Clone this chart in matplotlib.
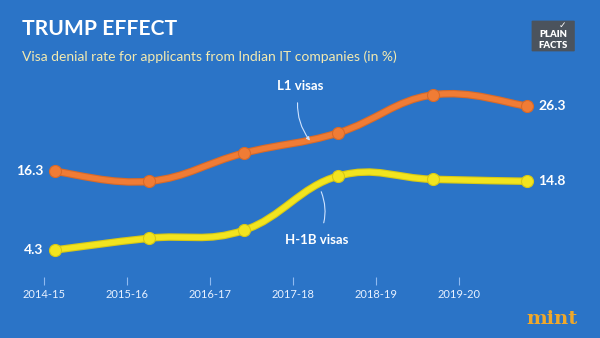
import numpy as np
import matplotlib
matplotlib.use("Agg")
import matplotlib.pyplot as plt
from matplotlib.path import Path
from matplotlib.patches import PathPatch, FancyBboxPatch

years = ["2014-15", "2015-16", "2016-17", "2017-18", "2018-19", "2019-20"]
l1_rate = [16.3, 14.8, 19.1, 22.2, 28.0, 26.3]
h1b_rate = [4.3, 6.1, 7.3, 15.6, 15.1, 14.8]

BG = "#2b74c7"
ORANGE = "#f07c35"
YELLOW = "#f2e41f"
SUB = "#f3eab0"

plt.rcParams["font.family"] = ["Lato", "DejaVu Sans"]


def smooth_path(xs, ys, t=0.2):
    # catmull-rom style bezier through the points
    xs = np.asarray(xs, float)
    ys = np.asarray(ys, float)
    verts = [(xs[0], ys[0])]
    codes = [Path.MOVETO]
    n = len(xs)
    for i in range(n - 1):
        x0, y0 = (xs[i - 1], ys[i - 1]) if i > 0 else (xs[i], ys[i])
        x3, y3 = (xs[i + 2], ys[i + 2]) if i + 2 < n else (xs[i + 1], ys[i + 1])
        c1 = (xs[i] + (xs[i + 1] - x0) * t, ys[i] + (ys[i + 1] - y0) * t)
        c2 = (xs[i + 1] - (x3 - xs[i]) * t, ys[i + 1] - (y3 - ys[i]) * t)
        verts += [c1, c2, (xs[i + 1], ys[i + 1])]
        codes += [Path.CURVE4] * 3
    return Path(verts, codes)


fig = plt.figure(figsize=(6, 3.38), dpi=100)
fig.patch.set_facecolor(BG)
ax = fig.add_axes([0, 0, 1, 1])
ax.set_facecolor(BG)
ax.set_xlim(-0.583, 5.773)
ax.set_ylim(-9.15, 42.5)
ax.axis("off")

x = np.arange(len(years))
for vals, col, edge in [(l1_rate, ORANGE, "#d96a28"), (h1b_rate, YELLOW, "#d8c813")]:
    ax.add_patch(PathPatch(smooth_path(x, vals), fill=False, edgecolor=edge,
                           lw=5.4, capstyle="round", joinstyle="round", zorder=2))
    ax.add_patch(PathPatch(smooth_path(x, vals), fill=False, edgecolor=col,
                           lw=3.8, capstyle="round", joinstyle="round", zorder=3))
    ax.scatter(x, vals, s=75, color=col, edgecolors=edge, linewidths=0.8, zorder=4)

# end labels
lab_kw = dict(color="white", fontsize=10, fontweight="bold", va="center")
ax.text(x[0] - 0.12, l1_rate[0], f"{l1_rate[0]}", ha="right", **lab_kw)
ax.text(x[0] - 0.12, h1b_rate[0], f"{h1b_rate[0]}", ha="right", **lab_kw)
ax.text(x[-1] + 0.12, l1_rate[-1], f"{l1_rate[-1]}", ha="left", **lab_kw)
ax.text(x[-1] + 0.12, h1b_rate[-1], f"{h1b_rate[-1]}", ha="left", **lab_kw)

# series annotations
ax.annotate("L1 visas", xy=(2.7, 21.0), xytext=(2.6, 29.4),
            color="white", fontsize=9.5, fontweight="bold", ha="center", va="center",
            arrowprops=dict(arrowstyle="-|>", color="#cfe3ff", lw=0.8,
                            mutation_scale=5, shrinkA=6, shrinkB=0,
                            connectionstyle="arc3,rad=0.25"))
ax.annotate("H-1B visas", xy=(2.82, 13.2), xytext=(2.77, 5.9),
            color="white", fontsize=9.5, fontweight="bold", ha="center", va="center",
            arrowprops=dict(arrowstyle="-", color="#cfe3ff", lw=0.8,
                            shrinkA=6, shrinkB=0,
                            connectionstyle="arc3,rad=0.25"))

# x axis with its own tick placement
ax2 = fig.add_axes([0, 0.157, 1, 0.01])
ax2.set_xlim(ax.get_xlim())
ax2.patch.set_alpha(0)
for s in ax2.spines.values():
    s.set_visible(False)
ax2.set_yticks([])
ax2.set_xticks(np.arange(len(years)) * 0.88 - 0.12)
ax2.set_xticklabels(years)
ax2.tick_params(axis="x", direction="in", length=6, width=0.8, color="#8fbaf0",
                labelcolor="#e8f1ff", labelsize=8, pad=3)

# titles
fig.text(0.037, 0.915, "TRUMP EFFECT", color="white", fontsize=15.2,
         fontweight="bold", va="center", ha="left")
fig.text(0.037, 0.832, "Visa denial rate for applicants from Indian IT companies (in %)",
         color=SUB, fontsize=10, va="center", ha="left")

# plain facts badge
fig.patches.append(FancyBboxPatch((0.888, 0.85), 0.068, 0.087, boxstyle="round,pad=0.002",
                                  transform=fig.transFigure, facecolor="#4d5257",
                                  edgecolor="none", alpha=0.95))
fig.text(0.922, 0.898, "PLAIN", color="white", fontsize=6.8, fontweight="heavy",
         ha="center", va="center")
fig.text(0.922, 0.864, "FACTS", color="white", fontsize=6.8, fontweight="heavy",
         ha="center", va="center")
fig.text(0.938, 0.925, "\u2713", color="white", fontsize=6.5, fontweight="bold",
         ha="center", va="center", family=["DejaVu Sans"])

# mint logo
fig.text(0.92, 0.055, "mint", color="#f0a82a", fontsize=14, fontweight="bold",
         family=["DejaVu Serif"], ha="center", va="center")

fig.savefig("out.png", dpi=100, facecolor=BG)
